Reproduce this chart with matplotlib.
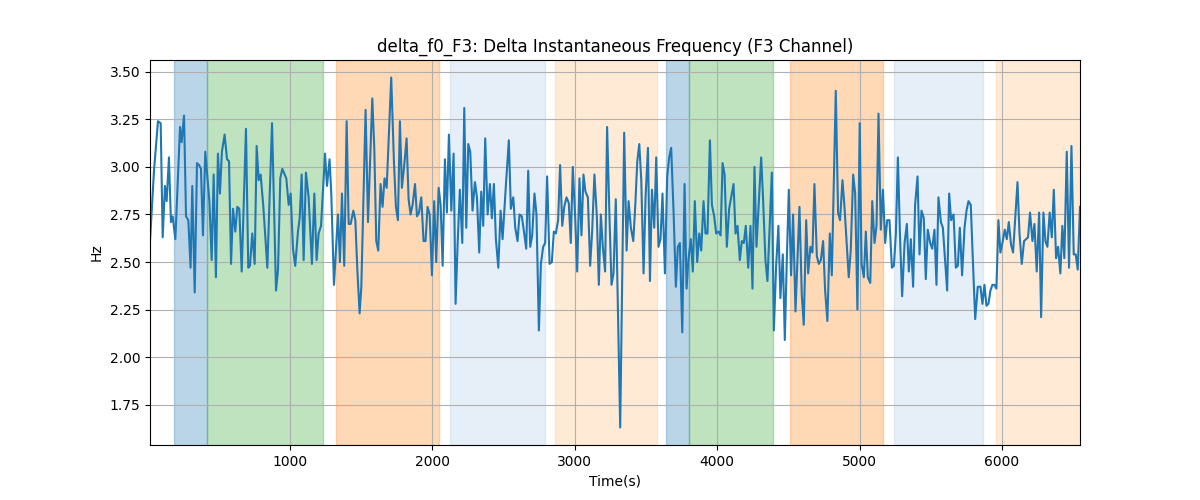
import matplotlib
matplotlib.use("Agg")
import matplotlib.pyplot as plt
import numpy as np

# delta f0 samples, in pieces along the time axis
t_a = [17, 45, 73, 92, 106, 122, 134, 150, 164, 176, 195, 228, 239, 256, 270, 286, 302, 314, 331, 347,
       361, 375, 389, 405, 434, 450, 464, 480, 494, 508, 522, 541, 558, 572, 586, 600, 616, 630, 644, 661,
       691, 707, 719, 735, 752, 766, 780, 794, 813, 841]
f_a = [2.61, 2.98, 3.24, 3.23, 2.63, 2.90, 2.82, 3.05, 2.71, 2.74, 2.62, 3.21, 3.13, 3.27, 2.74, 2.72, 2.47, 2.90, 2.34, 3.02,
       3.01, 2.99, 2.64, 3.08, 2.82, 2.51, 2.96, 2.42, 3.07, 2.86, 3.08, 3.17, 3.04, 3.03, 2.49, 2.78, 2.66, 2.79, 2.78, 2.45,
       3.20, 2.47, 2.48, 2.65, 2.49, 3.11, 2.93, 2.96, 2.79, 2.47]

t_b = [874, 902, 916, 932, 946, 974, 991, 1005, 1021, 1037, 1056, 1068, 1082, 1096, 1112, 1131, 1154, 1171, 1187, 1201,
       1218, 1246, 1260, 1278, 1290, 1309, 1337, 1351, 1365, 1381, 1398, 1412, 1426, 1445, 1459, 1473, 1489, 1501, 1531, 1548,
       1578, 1592, 1606, 1620, 1636, 1650, 1664, 1679]
f_b = [3.23, 2.35, 2.46, 2.94, 2.99, 2.94, 2.80, 2.86, 2.57, 2.48, 2.66, 2.73, 2.96, 2.51, 2.97, 2.84, 2.49, 2.86, 2.51, 2.65,
       2.69, 3.07, 2.90, 3.04, 2.86, 2.38, 2.75, 2.50, 2.86, 2.48, 3.24, 2.70, 2.70, 2.77, 2.72, 2.46, 2.23, 2.37, 3.30, 2.71,
       3.36, 3.10, 2.61, 2.56, 2.91, 2.79, 2.94, 2.89]

t_c = [1711, 1730, 1744, 1758, 1772, 1786, 1805, 1819, 1833, 1847, 1861, 1878, 1892, 1906, 1922, 1938, 1952, 1966, 1981, 1997,
       2013, 2027, 2044, 2058, 2072, 2088, 2102, 2116, 2133, 2149, 2163, 2177, 2193, 2210, 2224, 2238, 2252, 2266, 2282, 2299,
       2313, 2329, 2343, 2357, 2371, 2388, 2404, 2418, 2432, 2446, 2463, 2479, 2493, 2516]
f_c = [3.47, 3.03, 2.79, 2.72, 3.24, 2.89, 3.03, 3.15, 2.83, 2.75, 2.80, 2.91, 2.74, 2.76, 2.84, 2.61, 2.61, 2.79, 2.75, 2.43,
       2.82, 2.50, 2.89, 2.80, 2.48, 3.04, 2.76, 3.17, 2.77, 3.07, 2.28, 2.59, 2.88, 2.60, 3.31, 2.68, 3.12, 3.08, 2.77, 2.92,
       2.84, 2.55, 2.87, 2.69, 3.15, 2.75, 2.91, 2.73, 2.91, 2.62, 2.47, 2.77, 2.62, 2.90]

t_d = [2537, 2551, 2568, 2582, 2598, 2612, 2628, 2645, 2659, 2673, 2687, 2701, 2717, 2731, 2748, 2762, 2778, 2792, 2806, 2823,
       2839, 2853, 2867, 2883, 2897, 2912, 2926, 2942, 2958, 2972, 2986, 3003, 3017, 3033, 3047, 3061, 3075, 3092, 3108, 3122,
       3138, 3155, 3169, 3183, 3197, 3213, 3227, 3244, 3258, 3272, 3288, 3319]
f_d = [3.14, 2.78, 2.84, 2.68, 2.61, 2.75, 2.74, 2.65, 2.57, 2.98, 2.58, 2.64, 2.86, 2.75, 2.14, 2.49, 2.58, 2.60, 2.95, 2.49,
       2.50, 2.66, 2.65, 2.72, 3.01, 2.69, 2.79, 2.84, 2.81, 2.60, 3.00, 2.73, 2.45, 2.94, 2.64, 2.96, 2.87, 2.84, 2.48, 2.66,
       2.96, 2.74, 2.38, 2.75, 2.58, 2.45, 3.21, 2.73, 2.38, 2.44, 2.83, 1.63]

t_e = [3347, 3364, 3378, 3394, 3411, 3425, 3439, 3453, 3467, 3483, 3497, 3514, 3528, 3542, 3558, 3572, 3588, 3602, 3616, 3633,
       3649, 3663, 3677, 3694, 3710, 3724, 3738, 3755, 3771, 3785, 3799, 3815, 3829, 3843, 3860, 3874, 3888, 3904, 3918, 3932,
       3949, 3963, 3979, 3993, 4010, 4024, 4038, 4052, 4068, 4084, 4115, 4129, 4143, 4159, 4173]
f_e = [3.18, 2.56, 2.82, 2.68, 2.61, 2.80, 3.03, 3.12, 2.93, 2.44, 2.84, 3.10, 2.40, 2.88, 2.68, 3.05, 2.58, 2.62, 2.86, 2.44,
       2.95, 3.05, 3.10, 2.76, 2.37, 2.58, 2.60, 2.13, 2.91, 2.36, 2.52, 2.62, 2.45, 2.82, 2.50, 2.65, 2.56, 2.82, 2.65, 2.65,
       3.14, 2.80, 2.74, 2.65, 2.66, 2.64, 3.02, 2.96, 2.58, 2.78, 2.91, 2.65, 2.69, 2.51, 2.61]

t_f = [4187, 4201, 4218, 4234, 4248, 4262, 4276, 4292, 4309, 4323, 4339, 4353, 4384, 4398, 4414, 4430, 4444, 4461, 4475, 4489,
       4503, 4519, 4533, 4550, 4578, 4594, 4608, 4625, 4639, 4655, 4669, 4683, 4700, 4714, 4728, 4744, 4758, 4774, 4791, 4805,
       4833, 4849, 4863, 4880, 4894, 4924, 4938, 4955, 4969, 4985, 5001]
f_f = [2.60, 2.69, 2.47, 2.69, 2.36, 3.00, 2.58, 2.81, 3.05, 2.82, 2.51, 2.40, 2.97, 2.14, 2.48, 2.69, 2.31, 2.54, 2.09, 2.51,
       2.88, 2.43, 2.75, 2.24, 2.79, 2.33, 2.17, 2.72, 2.44, 2.58, 2.55, 2.91, 2.53, 2.49, 2.51, 2.61, 2.35, 2.19, 2.65, 2.43,
       3.40, 2.76, 2.72, 2.93, 2.79, 2.42, 2.56, 2.96, 2.86, 2.25, 3.23]

t_g = [5014, 5030, 5044, 5058, 5075, 5089, 5105, 5119, 5133, 5149, 5164, 5180, 5194, 5210, 5227, 5241, 5255, 5269, 5285, 5299,
       5316, 5332, 5346, 5360, 5376, 5390, 5407, 5421, 5435, 5451, 5465, 5479, 5496, 5510, 5526, 5540, 5554, 5571, 5585, 5615,
       5629, 5643, 5660, 5676, 5690, 5704, 5720, 5737, 5751, 5765, 5781, 5795, 5812, 5830]
f_g = [2.49, 2.42, 2.66, 2.42, 2.39, 2.82, 2.60, 2.69, 3.28, 2.67, 2.88, 2.60, 2.72, 2.72, 2.47, 2.48, 2.65, 3.05, 2.61, 2.32,
       2.60, 2.70, 2.45, 2.62, 2.37, 2.80, 2.95, 2.54, 2.77, 2.73, 2.41, 2.67, 2.60, 2.57, 2.67, 2.38, 2.84, 2.71, 2.68, 2.35,
       2.86, 2.72, 2.75, 2.47, 2.48, 2.68, 2.43, 2.68, 2.77, 2.82, 2.80, 2.52, 2.20, 2.37]

t_h = [5849, 5863, 5877, 5891, 5905, 5919, 5933, 5947, 5961, 5975, 5989, 6003, 6020, 6034, 6048, 6064, 6078, 6109, 6123, 6139,
       6155, 6169, 6183, 6197, 6214, 6228, 6244, 6261, 6275, 6291, 6305, 6319, 6335, 6350, 6364, 6380, 6394, 6410, 6424, 6438,
       6455, 6471, 6488, 6504, 6518, 6532, 6548]
f_h = [2.37, 2.28, 2.38, 2.27, 2.28, 2.35, 2.38, 2.38, 2.36, 2.72, 2.55, 2.60, 2.67, 2.62, 2.71, 2.59, 2.55, 2.92, 2.65, 2.49,
       2.61, 2.62, 2.63, 2.76, 2.61, 2.70, 2.45, 2.76, 2.21, 2.76, 2.61, 2.58, 2.76, 2.63, 2.88, 2.52, 2.58, 2.44, 2.69, 2.52,
       3.08, 2.47, 3.11, 2.54, 2.54, 2.46, 2.79]

# shaded phases: (start, end, colour, alpha)
span_start = [185, 418, 1323, 2123, 2860, 3640, 3802, 4510, 5240, 5957]
span_end = [418, 1232, 2045, 2790, 3577, 3802, 4393, 5163, 5866, 6560]
span_color = ['tab:blue', 'tab:green', 'tab:orange', '#aec7e8', '#ffbb78',
              'tab:blue', 'tab:green', 'tab:orange', '#aec7e8', '#ffbb78']
span_alpha = [0.3, 0.3, 0.3, 0.3, 0.3, 0.3, 0.3, 0.3, 0.3, 0.3]

t = np.concatenate([t_a, t_b, t_c, t_d, t_e, t_f, t_g, t_h])
f = np.concatenate([f_a, f_b, f_c, f_d, f_e, f_f, f_g, f_h])

fig, ax = plt.subplots(figsize=(12, 5), dpi=100)
for s, e, c, a in zip(span_start, span_end, span_color, span_alpha):
    ax.axvspan(s, e, color=c, alpha=a)
ax.plot(t, f, color='tab:blue')
ax.set_xlim(t[0], t[-1])
ax.set_title("delta_f0_F3: Delta Instantaneous Frequency (F3 Channel)")
ax.set_xlabel("Time(s)")
ax.set_ylabel("Hz")
ax.grid(True)
fig.savefig("out.png")
